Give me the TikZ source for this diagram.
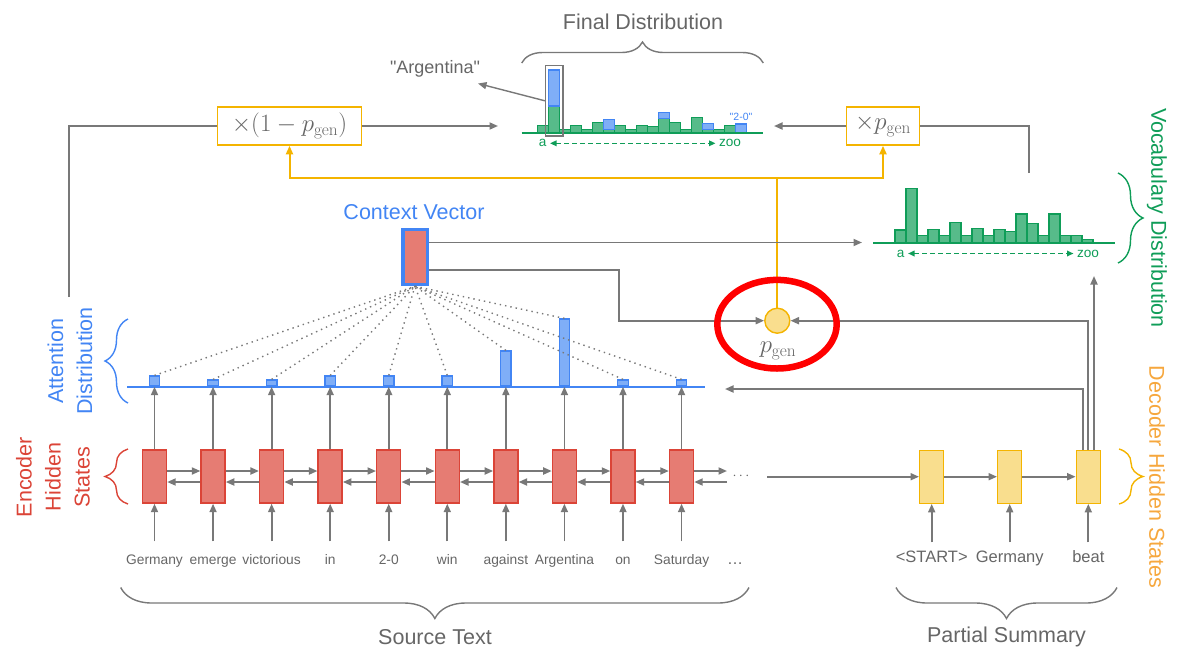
\documentclass[tikz,border=0pt]{standalone}
\usepackage[no-math]{fontspec}
\setmainfont{Liberation Sans}[Ligatures=TeXOff]
\usetikzlibrary{arrows.meta, positioning, calc, decorations.pathreplacing}
\definecolor{wiregray}{HTML}{787878}
\definecolor{labelgray}{HTML}{666666}
\definecolor{encfill}{HTML}{E67C73}
\definecolor{encline}{HTML}{DB4437}
\definecolor{attline}{HTML}{4285F4}
\definecolor{attfill}{HTML}{7FAEF7}
\definecolor{vocline}{HTML}{0F9D58}
\definecolor{vocfill}{HTML}{57BB8A}
\definecolor{decline}{HTML}{F4B400}
\definecolor{decfill}{HTML}{F9DE8E}
\definecolor{declabel}{HTML}{F6A73D}
\definecolor{markred}{HTML}{FF0000}

\begin{document}
\begin{tikzpicture}[x=1pt, y=-1pt,
  wire/.style={draw=wiregray, line width=1.8pt},
  flow/.style={wire, -{Triangle[length=8.5pt, width=7pt]}},
  gate/.style={draw=decline, line width=2pt},
  gateflow/.style={gate, -{Triangle[length=8.5pt, width=7pt]}},
  attend/.style={draw=wiregray, line width=1.4pt, dash pattern=on 1.4pt off 4pt},
  encstate/.style={draw=encline, fill=encfill, line width=1.4pt,
                   minimum width=24pt, minimum height=53pt, inner sep=0pt},
  decstate/.style={draw=decline, fill=decfill, line width=1.4pt,
                   minimum width=24pt, minimum height=53pt, inner sep=0pt},
  attbar/.style={draw=attline, fill=attfill, line width=1.3pt,
                 minimum width=10.5pt, inner sep=0pt, anchor=south},
  vocbar/.style={draw=vocline, fill=vocfill, line width=1.3pt},
  copybar/.style={draw=attline, fill=attfill, line width=1.3pt},
  mult/.style={draw=decline, fill=white, line width=1.6pt, text=labelgray,
               minimum height=38pt, inner sep=0pt, font=\fontsize{26}{30}\selectfont},
  srcword/.style={text=labelgray, font=\fontsize{13.8}{16}\selectfont,
                  text height=10pt, text depth=3pt, inner sep=2pt},
  decword/.style={text=labelgray, font=\fontsize{16.5}{19}\selectfont,
                  text height=12pt, text depth=3.5pt, inner sep=2pt},
  heading/.style={font=\fontsize{21.5}{29}\selectfont, align=center},
  axisword/.style={font=\fontsize{13.6}{16}\selectfont, text=vocline},
  spanline/.style={draw=vocline, line width=1.6pt, dash pattern=on 5pt off 3pt,
                {Triangle[length=6.5pt, width=5.5pt]}-{Triangle[length=6.5pt, width=5.5pt]}},
  curly/.style={decorate, decoration={brace, amplitude=#1}, line width=1.4pt},
  curly/.default=22pt,
]
  \useasboundingbox (0,0) rectangle (1183,654);

  % Encoder states and source words
  \foreach \w [count=\i] in {Germany, emerge, victorious, in, 2-0, win, against, Argentina, on, Saturday} {
    \node[encstate] (enc\i) at ({154.5+58.56*(\i-1)}, 476.5) {};
    \node[srcword] (src\i) at ({154.5+58.56*(\i-1)}, 561) {\w};
    \draw[flow] ([yshift=11pt]src\i.north) -- (enc\i.south);
  }
  \foreach \i [count=\j from 2] in {1,...,9} {
    \draw[flow] ([yshift=5.5pt]enc\i.east) -- ([yshift=5.5pt]enc\j.west);
    \draw[flow] ([yshift=-5.5pt]enc\j.west) -- ([yshift=-5.5pt]enc\i.east);
  }
  \coordinate (encTail) at (727, 476.5);
  \draw[flow] ([yshift=5.5pt]enc10.east) -- ([yshift=5.5pt]encTail);
  \draw[flow] ([yshift=-5.5pt]encTail) -- ([yshift=-5.5pt]enc10.east);
  \node[text=labelgray, font=\fontsize{15}{17}\selectfont] (encDots) at (741, 476.5) {$\cdots$};
  \node[srcword, font=\fontsize{16}{18}\selectfont] (srcDots) at (735, 561) {\dots};

  % Decoder states and summary words
  \foreach \w/\x [count=\i] in {<START>/931.7, Germany/1009.7, beat/1088.3} {
    \node[decstate] (dec\i) at (\x, 476.7) {};
    \node[decword] (tgt\i) at (\x, 558.3) {\w};
    \draw[flow] ([yshift=6pt]tgt\i.north) -- (dec\i.south);
  }
  \coordinate (encOut) at (767, 476.7);
  \draw[flow] (encOut) -- (dec1);
  \draw[flow] (dec1) -- (dec2);
  \draw[flow] (dec2) -- (dec3);

  % Context vector
  \node[draw=attline, fill=encfill, line width=3.5pt, minimum width=24.5pt,
        minimum height=55pt, inner sep=0pt] (ctx) at (415, 257) {};
  \node[heading, text=attline] (ctxLabel) at (414, 212) {Context Vector};

  % Attention distribution
  \draw[draw=attline, line width=1.7pt] (127, 386.7) -- (705, 386.7);
  \foreach \h [count=\i] in {10, 6, 6, 10, 10, 10, 35, 67, 6, 6} {
    \node[attbar, minimum height=\h*1pt] (att\i) at (enc\i.north |- 0,386.7) {};
    \draw[flow] (enc\i) -- (att\i);
    \draw[attend] (att\i.north) -- (ctx.south);
  }

  % Generation probability
  \node[circle, draw=decline, fill=decfill, line width=1.4pt, minimum size=25pt,
        inner sep=0pt] (pgen) at (777.3, 320.7) {};
  \node[text=labelgray, font=\fontsize{25}{30}\selectfont] (pgenLabel) at (778, 351) {$p_{\mathrm{gen}}$};

  % Vocabulary distribution
  \foreach \h [count=\k] in {13.3, 55, 7.7, 14, 7.7, 20.7, 7.7, 15, 7.7, 14, 11.7, 29.3, 20, 7.7, 29.3, 7.7, 7.7, 4} {
    \draw[vocbar] ({884+11*\k}, 243.3) rectangle ++(11, -\h);
  }
  \draw[draw=vocline, line width=1.7pt] (873, 243.3) -- (1115, 243.3);
  \node[axisword] (vocA) at (900.7, 253.5) {a};
  \node[axisword] (vocZ) at (1088, 253.5) {zoo};
  \draw[spanline] (vocA) -- (vocZ);

  % Final distribution
  \foreach \h [count=\k] in {7, 26.7, 3.3, 7, 3.3, 10.3, 3.3, 7, 3.3, 7, 6, 14.3, 10.3, 3.3, 15, 3.3, 3.3, 7} {
    \draw[vocbar] ({526.7+11*\k}, 132.7) rectangle ++(11, -\h);
  }
  \foreach \k/\lo/\hi in {2/26.7/62.7, 7/3.3/13.3, 12/14.3/20, 16/3.3/9.3, 19/0/8.7} {
    \draw[copybar] ({526.7+11*\k}, {132.7-\lo}) rectangle ++(11, {\lo-\hi});
  }
  \draw[draw=vocline, line width=1.7pt] (521.7, 132.7) -- (763.3, 132.7);
  \node[axisword] (finA) at (542.7, 143.3) {a};
  \node[axisword] (finZ) at (730, 143.3) {zoo};
  \draw[spanline] (finA) -- (finZ);
  \node[draw=wiregray, line width=1.3pt, minimum width=17.5pt, minimum height=70.5pt,
        inner sep=0pt] (argBox) at (554.3, 100.8) {};
  \node[text=labelgray, font=\fontsize{18}{20}\selectfont] (argLabel) at (435, 68.5) {"Argentina"};
  \coordinate (argOut) at (478, 83.5);
  \draw[flow, line width=1.4pt] (argBox.west) -- (argOut);
  \node[text=attline, font=\fontsize{10.5}{12}\selectfont] (oovLabel) at (741, 116.7) {"2-0"};

  % Mixing boxes
  \node[mult, minimum width=144pt] (multCopy) at (289.5, 126) {$\times(1-p_{\mathrm{gen}})$};
  \node[mult, minimum width=73pt] (multGen) at (883, 126) {$\times p_{\mathrm{gen}}$};
  \coordinate (copyFrom) at (69.3, 297);
  \coordinate (finL) at (498, 126);
  \coordinate (finR) at (774, 126);
  \coordinate (vocOut) at (1029, 173);
  \draw[wire] (copyFrom) |- (multCopy);
  \draw[flow] (multCopy) -- (finL);
  \draw[flow] (multGen) -- (finR);
  \draw[wire] (vocOut) |- (multGen);

  % Gate lines
  \coordinate (gateJoin) at (777.3, 177.5);
  \draw[gate] (pgen) -- (gateJoin);
  \draw[gateflow] (gateJoin) -| (multCopy);
  \draw[gateflow] (gateJoin) -| (multGen);

  % Context and decoder connections
  \coordinate (vocIn) at (862, 242.5);
  \coordinate (ctxBend) at (619, 270);
  \coordinate (attIn) at (725, 389);
  \coordinate (vocUp) at (1094, 276);
  \draw[flow] (ctx.east |- vocIn) -- (vocIn);
  \draw[flow] (ctx.east |- ctxBend) -- (ctxBend) |- (pgen);
  \draw[flow] ([xshift=-5.6pt]dec3.north) |- (attIn);
  \draw[flow] (dec3.north) |- (pgen);
  \draw[flow] (vocUp |- dec3.north) -- (vocUp);

  % Braces and labels
  \draw[curly=21pt, draw=wiregray] (521.7, 63) -- (763.3, 63);
  \node[heading, text=labelgray] (finLabel) at (643, 21.7) {Final Distribution};
  \draw[curly=23pt, draw=attline] (128, 403) -- (128, 319);
  \node[heading, text=attline, rotate=90] (attLabel) at (70, 361) {Attention\\Distribution};
  \draw[curly=23pt, draw=encline] (128, 504) -- (128, 449);
  \node[heading, text=encline, rotate=90] (encLabel) at (53, 477) {Encoder\\Hidden\\States};
  \draw[curly=24pt, draw=decline] (1119, 449) -- (1119, 504);
  \node[heading, text=declabel, rotate=-90] (decLabel) at (1157, 477) {Decoder Hidden States};
  \draw[curly=25pt, draw=vocline] (1118, 173) -- (1118, 263);
  \node[heading, text=vocline, rotate=-90] (vocLabel) at (1157, 218) {Vocabulary Distribution};
  \draw[curly=31pt, draw=wiregray] (749, 587.5) -- (120.7, 587.5);
  \node[heading, text=labelgray] (srcLabel) at (435, 637) {Source Text};
  \draw[curly=31pt, draw=wiregray] (1117, 587.5) -- (896, 587.5);
  \node[heading, text=labelgray] (sumLabel) at (1006.5, 637) {Partial Summary};

  % Highlight
  \draw[draw=markred, line width=6.5pt] (777, 324.2) ellipse [x radius=59.7, y radius=44.3];
\end{tikzpicture}
\end{document}
